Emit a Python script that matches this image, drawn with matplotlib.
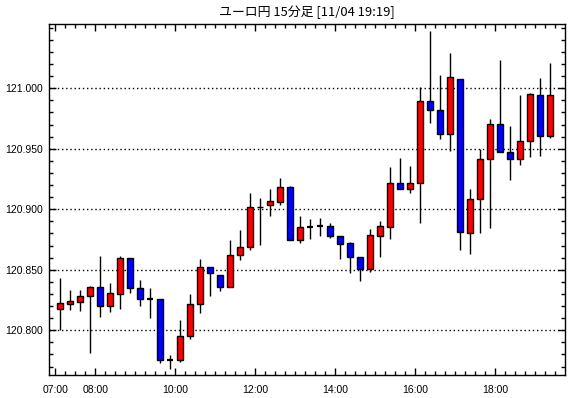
import matplotlib
matplotlib.use("Agg")
import matplotlib.pyplot as plt
from matplotlib.patches import Rectangle
from matplotlib.ticker import FixedLocator, MultipleLocator, FuncFormatter

plt.rcParams['font.family'] = ['Liberation Sans', 'Noto Sans CJK JP', 'DejaVu Sans']

title = "ユーロ円 15分足 [11/04 19:19]"

times = ["07:00", "07:15", "07:30", "07:45", "08:00", "08:15", "08:30", "08:45",
         "09:00", "09:15", "09:30", "09:45", "10:00", "10:15", "10:30", "10:45",
         "11:00", "11:15", "11:30", "11:45", "12:00", "12:15", "12:30", "12:45",
         "13:00", "13:15", "13:30", "13:45", "14:00", "14:15", "14:30", "14:45",
         "15:00", "15:15", "15:30", "15:45", "16:00", "16:15", "16:30", "16:45",
         "17:00", "17:15", "17:30", "17:45", "18:00", "18:15", "18:30", "18:45",
         "19:00", "19:15"]

opens = [120.8174, 120.8220, 120.8236, 120.8281, 120.8358, 120.8203, 120.8302, 120.8595,
         120.8347, 120.8260, 120.8256, 120.7752, 120.7752, 120.7953, 120.8215, 120.8526,
         120.8454, 120.8360, 120.8620, 120.8686, 120.9015, 120.9038, 120.9063, 120.9182,
         120.8744, 120.8854, 120.8860, 120.8860, 120.8782, 120.8719, 120.8608, 120.8504,
         120.8782, 120.8856, 120.9215, 120.9165, 120.9215, 120.9895, 120.9818, 120.9620,
         121.0074, 120.8802, 120.9083, 120.9413, 120.9702, 120.9476, 120.9413, 120.9562,
         120.9942, 120.9603]
closes = [120.8223, 120.8242, 120.8283, 120.8358, 120.8203, 120.8306, 120.8595, 120.8347,
          120.8261, 120.8260, 120.7752, 120.7752, 120.7953, 120.8215, 120.8526, 120.8471,
          120.8360, 120.8620, 120.8686, 120.9016, 120.9022, 120.9066, 120.9182, 120.8744,
          120.8851, 120.8854, 120.8860, 120.8782, 120.8716, 120.8608, 120.8504, 120.8785,
          120.8860, 120.9215, 120.9165, 120.9215, 120.9895, 120.9818, 120.9620, 121.0091,
          120.8810, 120.9083, 120.9413, 120.9702, 120.9476, 120.9413, 120.9562, 120.9950,
          120.9603, 120.9942]
highs = [120.8435, 120.8333, 120.8333, 120.8366, 120.8614, 120.8388, 120.8614, 120.8595,
         120.8416, 120.8352, 120.8256, 120.7796, 120.8085, 120.8300, 120.8587, 120.8526,
         120.8454, 120.8746, 120.8829, 120.9135, 120.9091, 120.9168, 120.9259, 120.9192,
         120.8945, 120.8920, 120.8928, 120.8887, 120.8782, 120.8732, 120.8608, 120.8837,
         120.8903, 120.9352, 120.9426, 120.9360, 121.0013, 121.0474, 121.0110, 121.0292,
         121.0074, 120.9168, 120.9496, 120.9746, 121.0234, 120.9688, 120.9944, 120.9960,
         121.0085, 121.0209]
lows = [120.8000, 120.8168, 120.8160, 120.7815, 120.8112, 120.8151, 120.8174, 120.8311,
        120.8203, 120.8104, 120.7727, 120.7680, 120.7740, 120.7926, 120.8140, 120.8283,
        120.8327, 120.8360, 120.8581, 120.8664, 120.8705, 120.8947, 120.9038, 120.8744,
        120.8724, 120.8757, 120.8780, 120.8760, 120.8589, 120.8476, 120.8410, 120.8484,
        120.8608, 120.8754, 120.9165, 120.9137, 120.8884, 120.9716, 120.9583, 120.9484,
        120.8664, 120.8633, 120.8807, 120.8848, 120.9476, 120.9245, 120.9368, 120.9430,
        120.9443, 120.9587]

label_hours = [7, 8, 10, 12, 14, 16, 18]
price_levels = [120.80, 120.85, 120.90, 120.95, 121.00]


def to_hours(s):
    h, m = s.split(":")
    return int(h) + int(m) / 60.0


fig = plt.figure(figsize=(5.7, 3.98), dpi=100)
ax = fig.add_axes([49.3 / 570, 1 - 375 / 398, (565 - 49.3) / 570, (375 - 24.3) / 398])

width = 0.15
for t, o, c, h, l in zip(times, opens, closes, highs, lows):
    x = to_hours(t) + 0.125
    ax.vlines(x, l, h, color='black', lw=1.0, zorder=2)
    if abs(c - o) < 0.0002:
        ax.hlines((o + c) / 2, x - width / 2, x + width / 2, color='black', lw=1.6, zorder=3)
        continue
    col = '#ff0000' if c > o else '#0000ff'
    ax.add_patch(Rectangle((x - width / 2, min(o, c)), width, abs(c - o),
                           facecolor=col, edgecolor='black', lw=1.0, zorder=3))

ax.set_xlim(7 - 0.15, 7 + (565 - 55.3) / 40)
ax.set_ylim(120.763, 121.0529)

ax.xaxis.set_major_locator(FixedLocator(label_hours))
ax.xaxis.set_minor_locator(MultipleLocator(0.25))
ax.xaxis.set_major_formatter(FuncFormatter(lambda v, p: "%02d:%02d" % (int(v), round((v % 1) * 60))))
ax.yaxis.set_major_locator(FixedLocator(price_levels))
ax.yaxis.set_minor_locator(MultipleLocator(0.01))
ax.yaxis.set_major_formatter(FuncFormatter(lambda v, p: "%.3f" % v))

ax.tick_params(which='both', direction='in', top=True, right=True, color='black',
               labelsize=7.5, width=1.0)
ax.tick_params(which='major', length=5)
ax.tick_params(axis='x', which='major', pad=7)
ax.tick_params(axis='y', which='major', pad=4.5)
ax.tick_params(which='minor', length=3)

ax.grid(axis='y', which='major', color='black', linestyle=(0, (1, 2)), lw=1.0)
for sp in ax.spines.values():
    sp.set_linewidth(1.0)

fig.text((49.3 + 565) / 2 / 570, 1 - 12 / 398, title, ha='center', va='center',
         fontsize=9.3, family=['Noto Sans CJK JP', 'DejaVu Sans'])

fig.savefig("out.png", dpi=100, facecolor='white')
